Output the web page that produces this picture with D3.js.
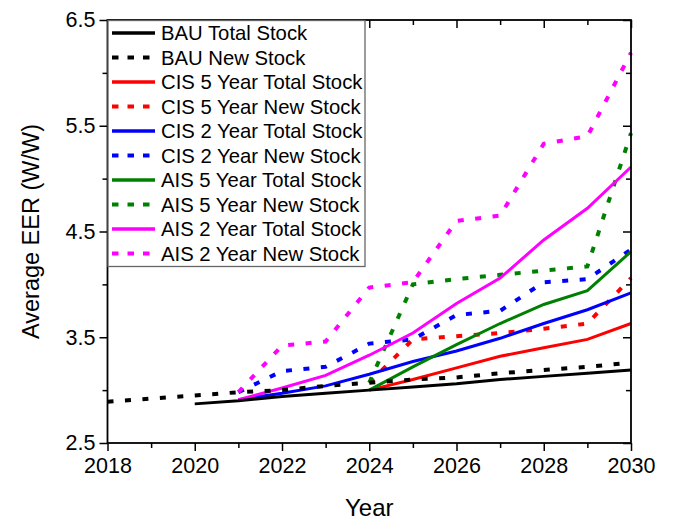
<!DOCTYPE html>
<html><head><meta charset="utf-8">
<script src="https://cdn.jsdelivr.net/npm/d3@7"></script>
<style>html,body{margin:0;padding:0;background:#fff;}svg{display:block;font-family:"Liberation Sans",Arial,sans-serif;}</style>
</head><body>
<svg id="chart" width="674" height="521"></svg>
<script>
const years = [2018,2019,2020,2021,2022,2023,2024,2025,2026,2027,2028,2029,2030];
const bauTotal  = [null,null,2.87,2.90,2.94,2.97,3.00,3.03,3.06,3.10,3.13,3.16,3.19];
const bauNew    = [2.89,2.92,2.95,2.98,3.00,3.04,3.07,3.10,3.12,3.16,3.19,3.22,3.26];
const cis5Total = [null,null,null,null,null,null,3.00,3.10,3.21,3.32,3.40,3.48,3.63];
const cis5New   = [null,null,null,null,null,null,3.07,3.48,3.51,3.54,3.58,3.63,4.06];
const cis2Total = [null,null,null,2.91,2.97,3.04,3.15,3.27,3.37,3.49,3.63,3.76,3.92];
const cis2New   = [null,null,null,2.98,3.18,3.22,3.44,3.48,3.71,3.75,4.02,4.05,4.33];
const ais5Total = [null,null,null,null,null,null,3.00,3.22,3.43,3.63,3.81,3.94,4.31];
const ais5New   = [null,null,null,null,null,null,3.07,4.00,4.05,4.09,4.13,4.17,5.43];
const ais2Total = [null,null,null,2.91,3.02,3.14,3.33,3.54,3.82,4.06,4.42,4.72,5.11];
const ais2New   = [null,null,null,2.98,3.42,3.46,3.97,4.02,4.60,4.65,5.33,5.40,6.19];
const seriesNames = ["BAU Total Stock","BAU New Stock","CIS 5 Year Total Stock","CIS 5 Year New Stock","CIS 2 Year Total Stock","CIS 2 Year New Stock","AIS 5 Year Total Stock","AIS 5 Year New Stock","AIS 2 Year Total Stock","AIS 2 Year New Stock"];
const seriesValues = [bauTotal,bauNew,cis5Total,cis5New,cis2Total,cis2New,ais5Total,ais5New,ais2Total,ais2New];
const seriesColors = ["#000000","#000000","#ff0000","#ff0000","#0000ff","#0000ff","#008000","#008000","#ff00ff","#ff00ff"];
const seriesDotted = [false,true,false,true,false,true,false,true,false,true];
const xTickLabels = [2018,2020,2022,2024,2026,2028,2030];
const yTickLabels = [2.5,3.5,4.5,5.5,6.5];
const xTitle = "Year", yTitle = "Average EER (W/W)";

const svg = d3.select("#chart");
const L = 107.5, R = 631, T = 20, B = 443;
const x = d3.scaleLinear().domain([2018,2030]).range([L,R]);
const y = d3.scaleLinear().domain([2.5,6.5]).range([B,T]);

// lines
const lineGen = vals => d3.line().defined((d,i)=>vals[i]!=null).x((d,i)=>x(years[i])).y((d,i)=>y(vals[i]))(years);
const order = [2,3,4,5,6,7,8,9,0,1];
const gl = svg.append("g");
order.forEach(k=>{
  gl.append("path").attr("d", lineGen(seriesValues[k])).attr("fill","none")
    .attr("stroke", seriesColors[k]).attr("stroke-width", seriesDotted[k]?4:3)
    .attr("stroke-dasharray", seriesDotted[k]?"6,11.5":null).attr("stroke-linejoin","miter");
});

// axes
const minorX = d3.range(2019,2030,2);
const minorY = [3.0,4.0,5.0,6.0];
const fmt = d3.format(".1f");
svg.append("g").attr("transform",`translate(0,${B})`)
  .call(d3.axisBottom(x).tickValues(xTickLabels).tickFormat(d3.format("d")).tickSize(8).tickPadding(7));
svg.append("g").attr("transform",`translate(0,${B})`).call(d3.axisBottom(x).tickValues(minorX).tickFormat("").tickSize(5));
svg.append("g").attr("transform",`translate(${L},0)`)
  .call(d3.axisLeft(y).tickValues(yTickLabels).tickFormat(fmt).tickSize(8).tickPadding(4));
svg.append("g").attr("transform",`translate(${L},0)`).call(d3.axisLeft(y).tickValues(minorY).tickFormat("").tickSize(5));
svg.append("g").attr("transform",`translate(0,${T})`).call(d3.axisBottom(x).tickValues(xTickLabels).tickFormat("").tickSize(8));
svg.append("g").attr("transform",`translate(0,${T})`).call(d3.axisBottom(x).tickValues(minorX).tickFormat("").tickSize(5));
svg.append("g").attr("transform",`translate(${R},0)`).call(d3.axisLeft(y).tickValues(yTickLabels).tickFormat("").tickSize(8));
svg.append("g").attr("transform",`translate(${R},0)`).call(d3.axisLeft(y).tickValues(minorY).tickFormat("").tickSize(5));
svg.selectAll(".domain").remove();
svg.selectAll(".tick line").attr("stroke","#000").attr("stroke-width",1.5);
svg.selectAll(".tick text").attr("font-size",21.5).attr("fill","#000").attr("font-family","Liberation Sans, Arial, sans-serif");
svg.append("rect").attr("x",L).attr("y",T).attr("width",R-L).attr("height",B-T)
  .attr("fill","none").attr("stroke","#000").attr("stroke-width",1.8);

// titles
svg.append("text").attr("x",(L+R)/2).attr("y",516).attr("text-anchor","middle").attr("font-size",24).text(xTitle);
svg.append("text").attr("transform",`translate(39,${(T+B)/2}) rotate(-90)`).attr("text-anchor","middle").attr("font-size",23.5).text(yTitle);

// legend
const lg = svg.append("g");
lg.append("rect").attr("x",L+0.5).attr("y",T+0.5).attr("width",257).attr("height",246)
  .attr("fill","#fff").attr("stroke","#666").attr("stroke-width",1.3);
seriesNames.forEach((n,i)=>{
  const yy = 33 + i*24.5;
  lg.append("line").attr("x1",112).attr("x2",155).attr("y1",yy).attr("y2",yy)
    .attr("stroke",seriesColors[i]).attr("stroke-width",seriesDotted[i]?4:3.3)
    .attr("stroke-dasharray",seriesDotted[i]?"6.5,9":null);
  lg.append("text").attr("x",161).attr("y",yy+7).attr("font-size",20.3).text(n);
});
</script>
</body></html>
